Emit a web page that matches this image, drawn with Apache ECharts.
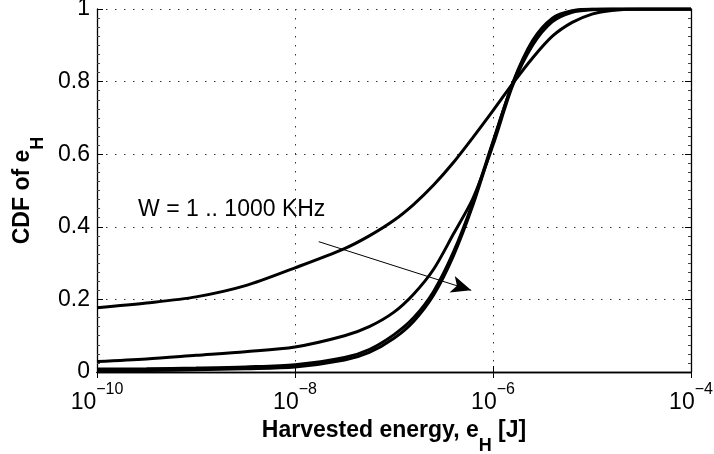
<!DOCTYPE html>
<html>
<head>
<meta charset="utf-8">
<script src="https://cdn.jsdelivr.net/npm/echarts@6/dist/echarts.min.js"></script>
<style>html,body{margin:0;padding:0;background:#fff}#c{width:714px;height:454px}</style>
</head>
<body>
<div id="c"></div>
<script>
// energy grid, as exponents of 10 (J)
const energyExp = [-10, -9.5, -9, -8.5, -8, -7.5, -7.25, -7, -6.8, -6.6, -6.4, -6.2, -6.0, -5.8, -5.6, -5.4, -5.2, -5.0, -4.8, -4.5, -4];
// CDF values
const cdfW1    = [0.177, 0.19, 0.207, 0.238, 0.287, 0.34, 0.375, 0.418, 0.462, 0.515, 0.577, 0.647, 0.72, 0.795, 0.865, 0.925, 0.963, 0.986, 0.996, 1.0, 1.0];
const cdfW10   = [0.029, 0.036, 0.046, 0.056, 0.069, 0.10, 0.125, 0.165, 0.215, 0.283, 0.38, 0.48, 0.625, 0.79, 0.90, 0.965, 0.991, 0.998, 1.0, 1.0, 1.0];
const cdfW100  = [0.008, 0.009, 0.011, 0.014, 0.020, 0.040, 0.062, 0.103, 0.15, 0.222, 0.33, 0.47, 0.635, 0.795, 0.91, 0.972, 0.994, 0.999, 1.0, 1.0, 1.0];
const cdfW1000 = [0.003, 0.004, 0.006, 0.009, 0.014, 0.033, 0.054, 0.093, 0.14, 0.212, 0.32, 0.462, 0.632, 0.797, 0.913, 0.975, 0.995, 1.0, 1.0, 1.0, 1.0];
const seriesNames = ['W = 1 KHz', 'W = 10 KHz', 'W = 100 KHz', 'W = 1000 KHz'];
// annotation (data coordinates: exponent, CDF)
const annoText = 'W = 1 .. 1000 KHz';
const annoTextPos = [-9.585, 0.446];
const arrowFrom = [-7.76, 0.359];
const arrowTo = [-6.22, 0.225];

const FONT = "'Liberation Sans', Arial, Helvetica, sans-serif";
const p10 = e => Math.pow(10, e);
const toData = vals => energyExp.map((e, i) => [p10(e), vals[i]]);

const chart = echarts.init(document.getElementById('c'), null, {renderer: 'canvas'});
const allVals = [cdfW1, cdfW10, cdfW100, cdfW1000];

const series = allVals.map((vals, i) => ({
  name: seriesNames[i],
  type: 'line',
  data: toData(vals),
  smooth: 0.3,
  showSymbol: false,
  symbol: 'none',
  lineStyle: {color: '#000', width: 3},
  silent: true,
  z: 3
}));
series[0].markLine = {
  silent: true,
  symbol: ['none', 'arrow'],
  symbolSize: [13, 20],
  label: {show: false},
  lineStyle: {color: '#000', width: 1, type: 'solid'},
  data: [[{coord: [p10(arrowFrom[0]), arrowFrom[1]]}, {coord: [p10(arrowTo[0]), arrowTo[1]]}]]
};
series[0].markPoint = {
  silent: true,
  symbol: 'circle',
  symbolSize: 0,
  data: [{coord: [p10(annoTextPos[0]), annoTextPos[1]]}],
  label: {show: true, position: 'right', distance: 0, formatter: annoText,
          color: '#000', fontSize: 23, fontFamily: FONT}
};

const tickStyle = {inside: true, length: 6, lineStyle: {color: '#000', width: 1}};
const gridLine = {show: true, lineStyle: {color: '#333', width: 1, type: [1.5, 7.5]}};
const nameRich = {
  t: {fontSize: 23, fontWeight: 'bold', fontFamily: FONT, color: '#000', verticalAlign: 'top'},
  s: {fontSize: 18, fontWeight: 'bold', fontFamily: FONT, color: '#000', lineHeight: 36, verticalAlign: 'bottom'}
};

const option = {
  animation: false,
  backgroundColor: '#fff',
  grid: {left: 97, right: 23, top: 9, bottom: 82, containLabel: false, outerBoundsMode: 'none'},
  xAxis: [{
    type: 'log', logBase: 10, min: 1e-10, max: 1e-4, interval: 2,
    position: 'bottom',
    axisLine: {show: true, lineStyle: {color: '#000', width: 1.3}},
    axisTick: tickStyle,
    splitLine: gridLine,
    axisLabel: {
      margin: 10,
      formatter: v => { const e = Math.round(Math.log10(v)); return '{b|10}{p|' + (e < 0 ? '\u2212' : '') + Math.abs(e) + '}'; },
      rich: {
        b: {fontSize: 23, fontFamily: FONT, color: '#000', lineHeight: 32, verticalAlign: 'bottom'},
        p: {fontSize: 16, fontFamily: FONT, color: '#000', verticalAlign: 'top'}
      }
    },
    name: '{t|Harvested energy, e}{s|H}{t| [J]}',
    nameLocation: 'middle',
    nameGap: 37,
    nameTextStyle: {rich: nameRich}
  }, {
    type: 'log', logBase: 10, min: 1e-10, max: 1e-4, interval: 2,
    position: 'top',
    axisLine: {show: true, lineStyle: {color: '#000', width: 1.3}},
    axisTick: tickStyle,
    axisLabel: {show: false},
    splitLine: {show: false}
  }],
  yAxis: [{
    type: 'value', min: 0, max: 1, interval: 0.2,
    position: 'left',
    axisLine: {show: true, lineStyle: {color: '#000', width: 1.3}},
    axisTick: tickStyle,
    minorTick: {show: true, splitNumber: 8, length: 3, lineStyle: {color: '#444', width: 1}},
    splitLine: gridLine,
    axisLabel: {
      margin: 7, fontSize: 23, fontFamily: FONT, color: '#000',
      formatter: v => String(parseFloat(v.toFixed(1)))
    },
    name: '{t|CDF of e}{s|H}',
    nameLocation: 'middle',
    nameRotate: 90,
    nameGap: 49,
    nameTextStyle: {rich: nameRich}
  }, {
    type: 'value', min: 0, max: 1, interval: 0.2,
    position: 'right',
    axisLine: {show: true, lineStyle: {color: '#000', width: 1.3}},
    axisTick: tickStyle,
    minorTick: {show: true, splitNumber: 8, length: 3, lineStyle: {color: '#444', width: 1}},
    axisLabel: {show: false},
    splitLine: {show: false}
  }],
  series: series
};
chart.setOption(option);
</script>
</body>
</html>
